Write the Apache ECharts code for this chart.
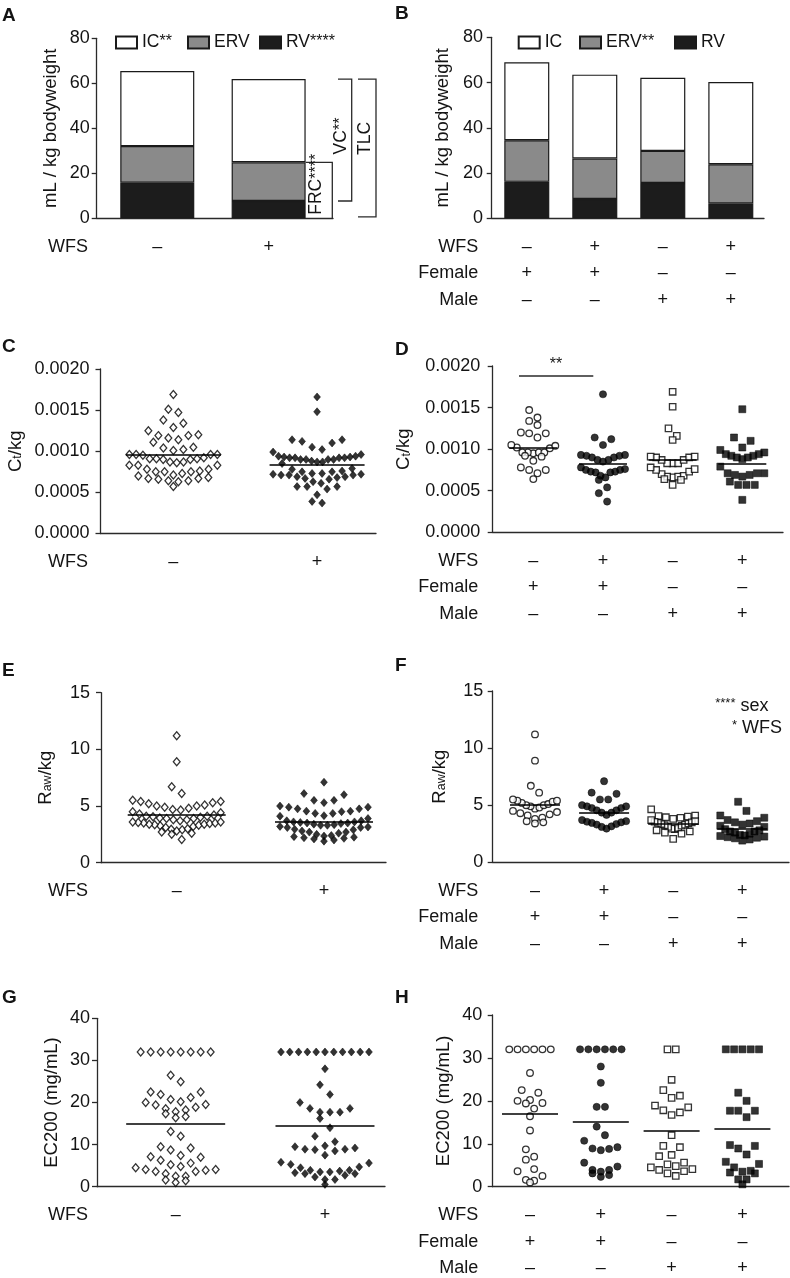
<!DOCTYPE html>
<html><head><meta charset="utf-8">
<script src="https://cdn.jsdelivr.net/npm/echarts@6/dist/echarts.min.js"></script>
<style>html,body{margin:0;padding:0;background:#fff}#c{width:790px;height:1278px}</style>
</head><body><div id="c"></div>
<script>
// ---------------- data ----------------
// Panel A/B: lung volumes (mL / kg bodyweight), stacked RV (bottom), ERV, IC (top)
const barA_RV  = [15.8, 7.7];
const barA_ERV = [16.3, 17.2];
const barA_IC  = [33.4, 37.0];
const barB_RV  = [16.1, 8.5, 15.6, 6.6];
const barB_ERV = [18.4, 17.9, 14.2, 17.3];
const barB_IC  = [34.5, 37.1, 32.3, 36.3];

// Category sign rows
const wfsTwo     = ['–', '+'];
const wfsFour    = ['–', '+', '–', '+'];
const femaleFour = ['+', '+', '–', '–'];
const maleFour   = ['–', '–', '+', '+'];

// Panel D: Ct/kg by group (female WFS-, female WFS+, male WFS-, male WFS+)
const ctFemaleNoWFS = [0.00147,0.00138,0.00134,0.00129,0.00120,0.00119,0.00119,0.00114,0.00105,0.00104,0.00102,0.00101,0.00096,0.00096,0.00096,0.00096,0.00095,0.00092,0.00091,0.00086,0.00078,0.00075,0.00075,0.00071,0.00064];
const ctFemaleWFS   = [0.00166,0.00114,0.00112,0.00105,0.00093,0.00093,0.00092,0.00092,0.00090,0.00090,0.00087,0.00087,0.00085,0.00078,0.00076,0.00075,0.00075,0.00073,0.00073,0.00072,0.00072,0.00068,0.00066,0.00063,0.00054,0.00047,0.00037];
const ctMaleNoWFS   = [0.00169,0.00151,0.00125,0.00116,0.00111,0.00091,0.00091,0.00090,0.00090,0.00087,0.00087,0.00083,0.00083,0.00083,0.00078,0.00076,0.00075,0.00073,0.00070,0.00068,0.00067,0.00067,0.00066,0.00064,0.00063,0.00057];
const ctMaleWFS     = [0.00148,0.00114,0.00110,0.00102,0.00099,0.00096,0.00094,0.00094,0.00092,0.00092,0.00090,0.00090,0.00088,0.00079,0.00071,0.00071,0.00071,0.00069,0.00069,0.00067,0.00061,0.00057,0.00057,0.00057,0.00039];
const ctMeansWFS = [0.000952, 0.000838];
const ctMeansSex = [0.001017, 0.000830, 0.000878, 0.000830];

// Panel F: Raw/kg
const rawFemaleNoWFS = [11.2,8.9,6.7,6.1,5.5,5.4,5.4,5.3,5.2,5.1,5.0,5.0,4.9,4.8,4.7,4.5,4.4,4.3,4.2,4.1,3.9,3.8,3.6,3.5,3.4];
const rawFemaleWFS   = [7.1,6.1,6.0,5.5,5.5,5.0,4.9,4.9,4.75,4.75,4.55,4.55,4.35,4.35,4.15,3.7,3.6,3.55,3.5,3.45,3.35,3.3,3.15,3.1,2.95];
const rawMaleNoWFS   = [4.64,4.1,4.05,4.0,3.95,3.9,3.8,3.7,3.6,3.55,3.5,3.45,3.4,3.35,3.3,3.25,3.2,3.1,3.0,2.95,2.9,2.8,2.7,2.6,2.5,2.05];
const rawMaleWFS     = [5.3,4.5,4.1,3.9,3.7,3.6,3.5,3.4,3.3,3.2,3.1,2.9,2.8,2.7,2.7,2.6,2.5,2.4,2.35,2.3,2.25,2.2,2.15,2.1,2.0,1.9];
const rawMeansWFS = [4.21, 3.62];
const rawMeansSex = [5.08, 4.34, 3.41, 2.94];

// Panel H: EC200 (mg/mL)
const ecFemaleNoWFS = [32,32,32,32,32,32,26.5,22.5,21.9,20.2,20.0,19.5,19.4,18.2,16.4,13.1,8.7,7.0,6.3,4.1,3.6,2.5,1.6,1.4,1.0];
const ecFemaleWFS   = [32,32,32,32,32,32,28.0,24.2,18.6,18.6,14.0,12.0,10.7,9.2,8.9,8.8,8.5,5.6,4.7,3.9,3.9,3.5,3.1,2.7,2.3];
const ecMaleNoWFS   = [32,32,24.9,22.5,21.2,20.7,18.9,18.5,17.8,17.3,16.7,12.0,9.5,9.2,7.4,7.1,5.6,5.2,4.8,4.5,4.1,3.9,3.6,3.1,2.5];
const ecMaleWFS     = [32,32,32,32,32,21.9,20.0,17.7,17.7,17.7,16.2,9.7,9.5,8.9,7.5,5.8,5.3,4.5,3.7,3.5,3.3,3.1,1.7,1.7,0.55];
const ecMeansWFS = [15.06, 14.5];
const ecMeansSex = [17.1, 15.15, 12.98, 13.6];

// ---------------- styling / layout ----------------
const FONT = '"Liberation Sans", Arial, Helvetica, sans-serif';
const TXT = '#141414', AX = '#2a2a2a';
const FS = 18;

const grids = [], xAxes = [], yAxes = [], series = [];

const NAME_RICH = {
  n:   {fontSize:18.5, lineHeight:18, verticalAlign:'top', fontFamily:FONT, color:TXT},
  sub: {fontSize:12.5, lineHeight:12, padding:[7,0,0,0], verticalAlign:'bottom', fontFamily:FONT, color:TXT}
};

function addPanel(p) {
  const gi = grids.length;
  grids.push({left:p.left, top:p.top, width:p.width, height:p.height, containLabel:false, outerBoundsMode:'none'});
  xAxes.push({
    type:'value', gridIndex:gi, min:p.xmin, max:p.xmax,
    axisLine:{show:true, onZero:false, lineStyle:{color:AX, width:1.3}},
    axisTick:{show:false}, splitLine:{show:false},
    axisLabel:{show:true, customValues:p.rows[0].map((_, i) => i + 1),
      formatter:(v) => p.rows.map(r => r[Math.round(v) - 1]).join('\n'),
      fontSize:FS, lineHeight:26.7, margin:15, color:TXT, fontFamily:FONT}
  });
  yAxes.push({
    type:'value', gridIndex:gi, min:0, max:p.ymax, interval:p.yint,
    axisLine:{show:true, onZero:false, lineStyle:{color:AX, width:1.3}},
    axisTick:{show:true, length:5, lineStyle:{color:AX, width:1.3}},
    splitLine:{show:false},
    axisLabel:{fontSize:FS, color:TXT, margin:p.lm, fontFamily:FONT, formatter:p.fmt},
    name:p.name, nameLocation:'middle', nameRotate:90, nameGap:p.ng,
    nameTextStyle:{fontSize:18.5, color:TXT, fontFamily:FONT, rich:NAME_RICH}
  });
  p.gi = gi;
  return gi;
}

const fmt4 = v => v.toFixed(4);
const P = {
  A:{left:96.7, top:38.3, width:236.3, height:180, xmin:0.456, xmax:2.578, ymax:80, yint:20, lm:7, ng:36, name:'mL / kg bodyweight', rows:[wfsTwo]},
  B:{left:491.7, top:37.3, width:272.3, height:181, xmin:0.484, xmax:4.488, ymax:80, yint:20, lm:8.7, ng:39, name:'mL / kg bodyweight', rows:[wfsFour, femaleFour, maleFour]},
  C:{left:100.5, top:369, width:275.5, height:164.5, xmin:0.493, xmax:2.410, ymax:0.002, yint:0.0005, lm:11, ng:76, fmt:fmt4, name:'{n|C}{sub|t}{n|/kg}', rows:[wfsTwo]},
  D:{left:492.7, top:366, width:290.3, height:166.3, xmin:0.417, xmax:4.584, ymax:0.002, yint:0.0005, lm:12.5, ng:80, fmt:fmt4, name:'{n|C}{sub|t}{n|/kg}', rows:[wfsFour, femaleFour, maleFour]},
  E:{left:101, top:692.7, width:285, height:170, xmin:0.486, xmax:2.421, ymax:15, yint:5, lm:11, ng:47, name:'{n|R}{sub|aw}{n|/kg}', rows:[wfsTwo]},
  F:{left:492.7, top:691, width:296.3, height:171.3, xmin:0.388, xmax:4.676, ymax:15, yint:5, lm:9.4, ng:44.7, name:'{n|R}{sub|aw}{n|/kg}', rows:[wfsFour, femaleFour, maleFour]},
  G:{left:97, top:1018.3, width:288, height:168.4, xmin:0.473, xmax:2.402, ymax:40, yint:10, lm:7, ng:36, name:'EC200 (mg/mL)', rows:[wfsTwo]},
  H:{left:492.7, top:1015, width:296.3, height:171.7, xmin:0.473, xmax:4.658, ymax:40, yint:10, lm:10.4, ng:39, name:'EC200 (mg/mL)', rows:[wfsFour, femaleFour, maleFour]}
};
['A','B','C','D','E','F','G','H'].forEach(k => addPanel(P[k]));

// ---- stacked bars: hidden category grid whose bands line up with the visible axis ----
function addBarGrid(p, n) {
  const gi = grids.length;
  const xPx = p.width / (p.xmax - p.xmin);
  const left = p.left + (0.5 - p.xmin) * xPx;
  grids.push({left, top:p.top, width:n * xPx, height:p.height, containLabel:false, outerBoundsMode:'none'});
  xAxes.push({type:'category', gridIndex:gi, data:p.rows[0].map((_, i) => String(i + 1)), show:false, boundaryGap:true});
  yAxes.push({type:'value', gridIndex:gi, min:0, max:p.ymax, show:false, splitLine:{show:false}});
  p.barGi = gi;
  p.barPx = xPx;
}
addBarGrid(P.A, 2);
addBarGrid(P.B, 4);

const BAR_STYLE = {
  RV:  {color:'#1c1c1c', borderColor:'#1a1a1a', borderWidth:1.2},
  ERV: {color:'#8a8a8a', borderColor:'#1a1a1a', borderWidth:1.2},
  IC:  {color:'#ffffff', borderColor:'#1a1a1a', borderWidth:1.2}
};
function addBars(p, stackId, bw, sets) {
  sets.forEach(([name, vals]) => {
    series.push({type:'bar', name, xAxisIndex:p.barGi, yAxisIndex:p.barGi, stack:stackId, barWidth:bw,
      itemStyle:BAR_STYLE[name], silent:true, data:vals});
  });
}
addBars(P.A, 'A', 74, [['RV', barA_RV], ['ERV', barA_ERV], ['IC', barA_IC]]);
addBars(P.B, 'B', 45, [['RV', barB_RV], ['ERV', barB_ERV], ['IC', barB_IC]]);

// ---- scatter dot plots (column scatter layout computed from the values) ----
function swarm(vals, center, xPx, yPx, sw) {
  const desc = vals.slice().sort((a, b) => b - a);
  const rows = []; let cur = null;
  desc.forEach(v => {
    if (!cur || (cur.top - v) * yPx > sw.bin) { cur = {top:v, items:[]}; rows.push(cur); }
    cur.items.push(v);
  });
  const out = [];
  rows.forEach(r => {
    const n = r.items.length;
    const sp = n > 1 ? Math.min(sw.space, sw.maxW / (n - 1)) : 0;
    const slots = [];
    for (let j = 0; j < n; j++) slots.push(j - (n - 1) / 2);
    slots.sort((a, b) => Math.abs(a) - Math.abs(b) || b - a);
    const asc = r.items.slice().sort((a, b) => a - b);
    asc.forEach((v, k) => out.push([center + slots[k] * sp / xPx, v]));
  });
  return out;
}
const SW_WIDE = {bin:10, space:10, maxW:88};
const SW_NARROW = {bin:10, space:8.3, maxW:44};
const OPEN = {color:'#ffffff', borderColor:'#000', borderWidth:1.3};
const FILL = {color:'#000', borderColor:'#000', borderWidth:0.6};

function addDots(p, groups, means, meanW, sw) {
  const xPx = p.width / (p.xmax - p.xmin), yPx = p.height / p.ymax;
  const hw = meanW / 2 / xPx;
  groups.forEach((g, i) => {
    const cx = i + 1;
    series.push({
      type:'scatter', xAxisIndex:p.gi, yAxisIndex:p.gi, symbol:g.symbol, symbolSize:g.size,
      itemStyle:g.filled ? FILL : OPEN, silent:true, z:2,
      data: swarm(g.vals, cx, xPx, yPx, sw),
      markLine:{silent:true, symbol:['none','none'], label:{show:false}, animation:false,
        lineStyle:{color:'#000', width:1.5, type:'solid'},
        data:[[{coord:[cx - hw, means[i]]}, {coord:[cx + hw, means[i]]}]]}
    });
  });
}
const DIA = [6.8, 8], CIR = 6.6, CIRF = 7.2, SQ = 6.4, SQF = 7;

addDots(P.C, [
  {vals:ctFemaleNoWFS.concat(ctMaleNoWFS), symbol:'diamond', size:DIA, filled:false},
  {vals:ctFemaleWFS.concat(ctMaleWFS), symbol:'diamond', size:DIA, filled:true}
], ctMeansWFS, 95, SW_WIDE);
addDots(P.D, [
  {vals:ctFemaleNoWFS, symbol:'circle', size:CIR, filled:false},
  {vals:ctFemaleWFS, symbol:'circle', size:CIRF, filled:true},
  {vals:ctMaleNoWFS, symbol:'rect', size:SQ, filled:false},
  {vals:ctMaleWFS, symbol:'rect', size:SQF, filled:true}
], ctMeansSex, 48, SW_NARROW);
addDots(P.E, [
  {vals:rawFemaleNoWFS.concat(rawMaleNoWFS), symbol:'diamond', size:DIA, filled:false},
  {vals:rawFemaleWFS.concat(rawMaleWFS), symbol:'diamond', size:DIA, filled:true}
], rawMeansWFS, 98, SW_WIDE);
addDots(P.F, [
  {vals:rawFemaleNoWFS, symbol:'circle', size:CIR, filled:false},
  {vals:rawFemaleWFS, symbol:'circle', size:CIRF, filled:true},
  {vals:rawMaleNoWFS, symbol:'rect', size:SQ, filled:false},
  {vals:rawMaleWFS, symbol:'rect', size:SQF, filled:true}
], rawMeansSex, 50, SW_NARROW);
addDots(P.G, [
  {vals:ecFemaleNoWFS.concat(ecMaleNoWFS), symbol:'diamond', size:DIA, filled:false},
  {vals:ecFemaleWFS.concat(ecMaleWFS), symbol:'diamond', size:DIA, filled:true}
], ecMeansWFS, 99, SW_WIDE);
addDots(P.H, [
  {vals:ecFemaleNoWFS, symbol:'circle', size:CIR, filled:false},
  {vals:ecFemaleWFS, symbol:'circle', size:CIRF, filled:true},
  {vals:ecMaleNoWFS, symbol:'rect', size:SQ, filled:false},
  {vals:ecMaleWFS, symbol:'rect', size:SQF, filled:true}
], ecMeansSex, 56, SW_NARROW);

// ---- legends ----
const LEG_RICH = {
  m: {fontSize:17.5, lineHeight:17, verticalAlign:'bottom', fontFamily:FONT, color:TXT},
  s: {fontSize:16, lineHeight:16, padding:[0,0,4,0], verticalAlign:'top', fontFamily:FONT, color:TXT}
};
function leg(name, left, fmt) {
  return {data:[name], left, top:33, icon:'rect', itemWidth:21, itemHeight:12, padding:0, itemGap:0,
    selectedMode:false, formatter:fmt, textStyle:{fontSize:17.5, color:TXT, fontFamily:FONT, rich:LEG_RICH}};
}
const legends = [
  leg('IC', 115, '{m|IC}{s|**}'), leg('ERV', 187, '{m|ERV}{s| }'), leg('RV', 259, '{m|RV}{s|****}'),
  leg('IC', 517.7, '{m|IC}{s| }'), leg('ERV', 579, '{m|ERV}{s|**}'), leg('RV', 674, '{m|RV}{s| }')
];

const chart = echarts.init(document.getElementById('c'), null, {renderer:'canvas', width:790, height:1278});
chart.setOption({
  animation:false, backgroundColor:'#ffffff',
  textStyle:{fontFamily:FONT},
  grid:grids, xAxis:xAxes, yAxis:yAxes, legend:legends, series
});

// ---- annotations (positions from the axes' scales) ----
const toPx = (p, x, y) => chart.convertToPixel({gridIndex:p.gi}, [x, y]);
const G = [];
const LINE = {stroke:'#2a2a2a', lineWidth:1.3, fill:null};
function txt(x, y, text, opts) {
  return Object.assign({type:'text', x, y, silent:true,
    style:Object.assign({text, fill:TXT, font:FS + 'px ' + FONT, align:'left', verticalAlign:'middle'}, opts || {})});
}
// panel letters
[['A',2,15.5],['B',395,13.5],['C',2,346.5],['D',395,350],['E',2,671],['F',395,666],['G',2,998],['H',395,998]]
  .forEach(([t, x, y]) => G.push(txt(x, y, t, {font:'bold 19px ' + FONT})));
// row names
function rowNames(p, names, right) {
  const y0 = toPx(p, p.xmin, 0)[1];
  names.forEach((t, k) => G.push(txt(right ? 478.3 : 48, y0 + 15 + 13.35 + k * 26.7, t, {align:right ? 'right' : 'left'})));
}
rowNames(P.A, ['WFS'], false); rowNames(P.C, ['WFS'], false);
rowNames(P.E, ['WFS'], false); rowNames(P.G, ['WFS'], false);
['B','D','F','H'].forEach(k => rowNames(P[k], ['WFS','Female','Male'], true));

// Panel A brackets (FRC, VC, TLC) from the second bar's stacked values
const SUP = {
  m: {fontSize:17.5, lineHeight:17, verticalAlign:'bottom', fontFamily:FONT, fill:TXT, color:TXT},
  s: {fontSize:16, lineHeight:16, padding:[0,0,4,0], verticalAlign:'top', fontFamily:FONT, fill:TXT, color:TXT}
};
const barRight = toPx(P.A, 2, 0)[0] + 37;
const yZero = toPx(P.A, 2, 0)[1];
const yFRC = toPx(P.A, 2, barA_RV[1] + barA_ERV[1])[1];
const yTot = toPx(P.A, 2, barA_RV[1] + barA_ERV[1] + barA_IC[1])[1];
const yRV = toPx(P.A, 2, barA_RV[1])[1];
G.push({type:'polyline', silent:true, shape:{points:[[barRight, yFRC],[332.3, yFRC],[332.3, yZero]]}, style:LINE});
G.push({type:'polyline', silent:true, shape:{points:[[338, yTot],[351.7, yTot],[351.7, yRV],[338, yRV]]}, style:LINE});
G.push({type:'polyline', silent:true, shape:{points:[[358, yTot],[376, yTot],[376, yZero - 1.5],[358, yZero - 1.5]]}, style:LINE});
G.push({type:'text', x:317, y:(yFRC + yZero) / 2 - 6, rotation:Math.PI / 2, silent:true,
  style:{text:'{m|FRC}{s|****}', rich:SUP, align:'center', verticalAlign:'middle', fill:TXT}});
G.push({type:'text', x:341.5, y:(yTot + yRV) / 2 - 4, rotation:Math.PI / 2, silent:true,
  style:{text:'{m|VC}{s|**}', rich:SUP, align:'center', verticalAlign:'middle', fill:TXT}});
G.push({type:'text', x:366, y:138.5, rotation:Math.PI / 2, silent:true,
  style:{text:'{m|TLC}', rich:SUP, align:'center', verticalAlign:'middle', fill:TXT}});

// Panel D significance bar
const ySig = toPx(P.D, 1, 0.00188)[1];
G.push({type:'line', silent:true, shape:{x1:519, y1:ySig, x2:593.3, y2:ySig}, style:LINE});
G.push(txt(556, ySig - 11, '**', {align:'center', font:'16px ' + FONT}));

// Panel F annotations
const FR = {
  m: {fontSize:18, lineHeight:18, verticalAlign:'bottom', fontFamily:FONT, fill:TXT, color:TXT},
  s: {fontSize:13, lineHeight:13, padding:[0,0,4,0], verticalAlign:'top', fontFamily:FONT, fill:TXT, color:TXT}
};
G.push({type:'text', x:768.5, y:706, silent:true, style:{text:'{s|****}{m| sex}', rich:FR, align:'right', verticalAlign:'middle', fill:TXT}});
G.push({type:'text', x:782, y:728.3, silent:true, style:{text:'{s|*}{m| WFS}', rich:FR, align:'right', verticalAlign:'middle', fill:TXT}});

chart.setOption({graphic:G});
</script>
</body></html>
